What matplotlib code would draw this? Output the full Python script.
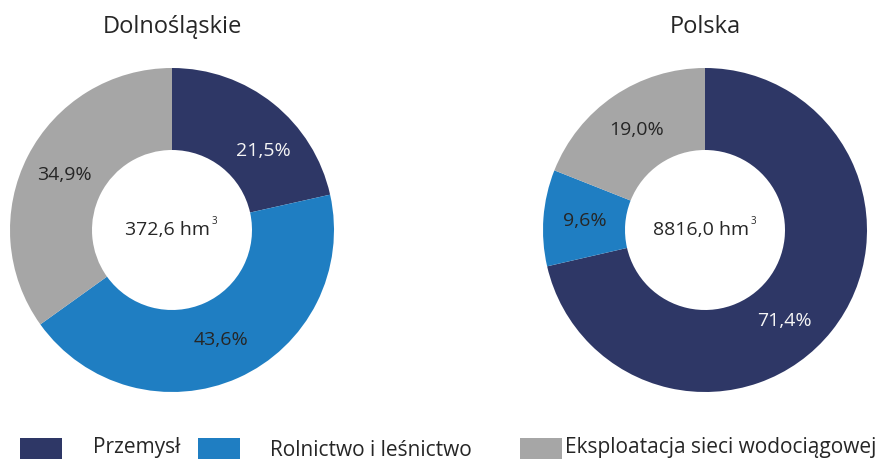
import numpy as np
import matplotlib.pyplot as plt
from matplotlib.patches import Rectangle

plt.rcParams['font.family'] = ['Open Sans', 'DejaVu Sans']

categories = ['Przemysł', 'Rolnictwo i leśnictwo', 'Eksploatacja sieci wodociągowej']
colors = ['#2E3766', '#1F7EC2', '#A6A6A6']
label_colors = ['#F5F5F5', '#262626', '#262626']
# angular nudge (deg) of each category's percent label, clockwise positive
label_shift = [10.5, 0, 0]

regions = ['Dolnośląskie', 'Polska']
shares = [[21.5, 43.6, 34.9],
          [71.4, 9.6, 19.0]]
totals = [372.6, 8816.0]

W, H = 886, 459
fig = plt.figure(figsize=(W / 100, H / 100), dpi=100)
ax = fig.add_axes([0, 0, 1, 1])
ax.axis('off')

centers = [(172, 229), (705, 229)]
r_out = 162
r_in = 80
r_lab = 121
dark = '#262626'


def fmt(v):
    return f'{v:.1f}'.replace('.', ',')


renderer = fig.canvas.get_renderer()
for (cx, cy), name, vals, tot in zip(centers, regions, shares, totals):
    wedges, _ = ax.pie(vals, colors=colors, startangle=90, counterclock=False,
                       center=(cx, cy), radius=r_out,
                       wedgeprops=dict(width=r_out - r_in, linewidth=0))
    # pie rescales the axes, so put the pixel frame back
    ax.set_xlim(0, W)
    ax.set_ylim(0, H)
    ax.set_aspect('equal')
    for w, v, c, sh in zip(wedges, vals, label_colors, label_shift):
        ang = np.deg2rad((w.theta1 + w.theta2) / 2 - sh)
        ax.text(cx + r_lab * np.cos(ang), cy + r_lab * np.sin(ang), fmt(v) + '%',
                ha='center', va='center', fontsize=14, color=c)
    ax.text(cx, H - 27, name, ha='center', va='center', fontsize=17, color=dark)
    t = ax.text(cx - 4, cy, fmt(tot) + ' hm', ha='center', va='center', fontsize=14, color=dark)
    # superscript 3 right after the unit
    bb = t.get_window_extent(renderer).transformed(ax.transData.inverted())
    ax.text(bb.x1 + 1, cy + 8, '3', ha='left', va='center', fontsize=7, color=dark)

# legend along the bottom edge
box_x = [20, 198, 520]
text_x = [93, 270, 565]
text_y = [12, 9, 12]
for bx, tx, ty, lab, c in zip(box_x, text_x, text_y, categories, colors):
    ax.add_patch(Rectangle((bx, 0), 42, 21, color=c, lw=0))
    ax.text(tx, ty, lab, ha='left', va='center', fontsize=15, color=dark)

fig.savefig('out.png', dpi=100)
